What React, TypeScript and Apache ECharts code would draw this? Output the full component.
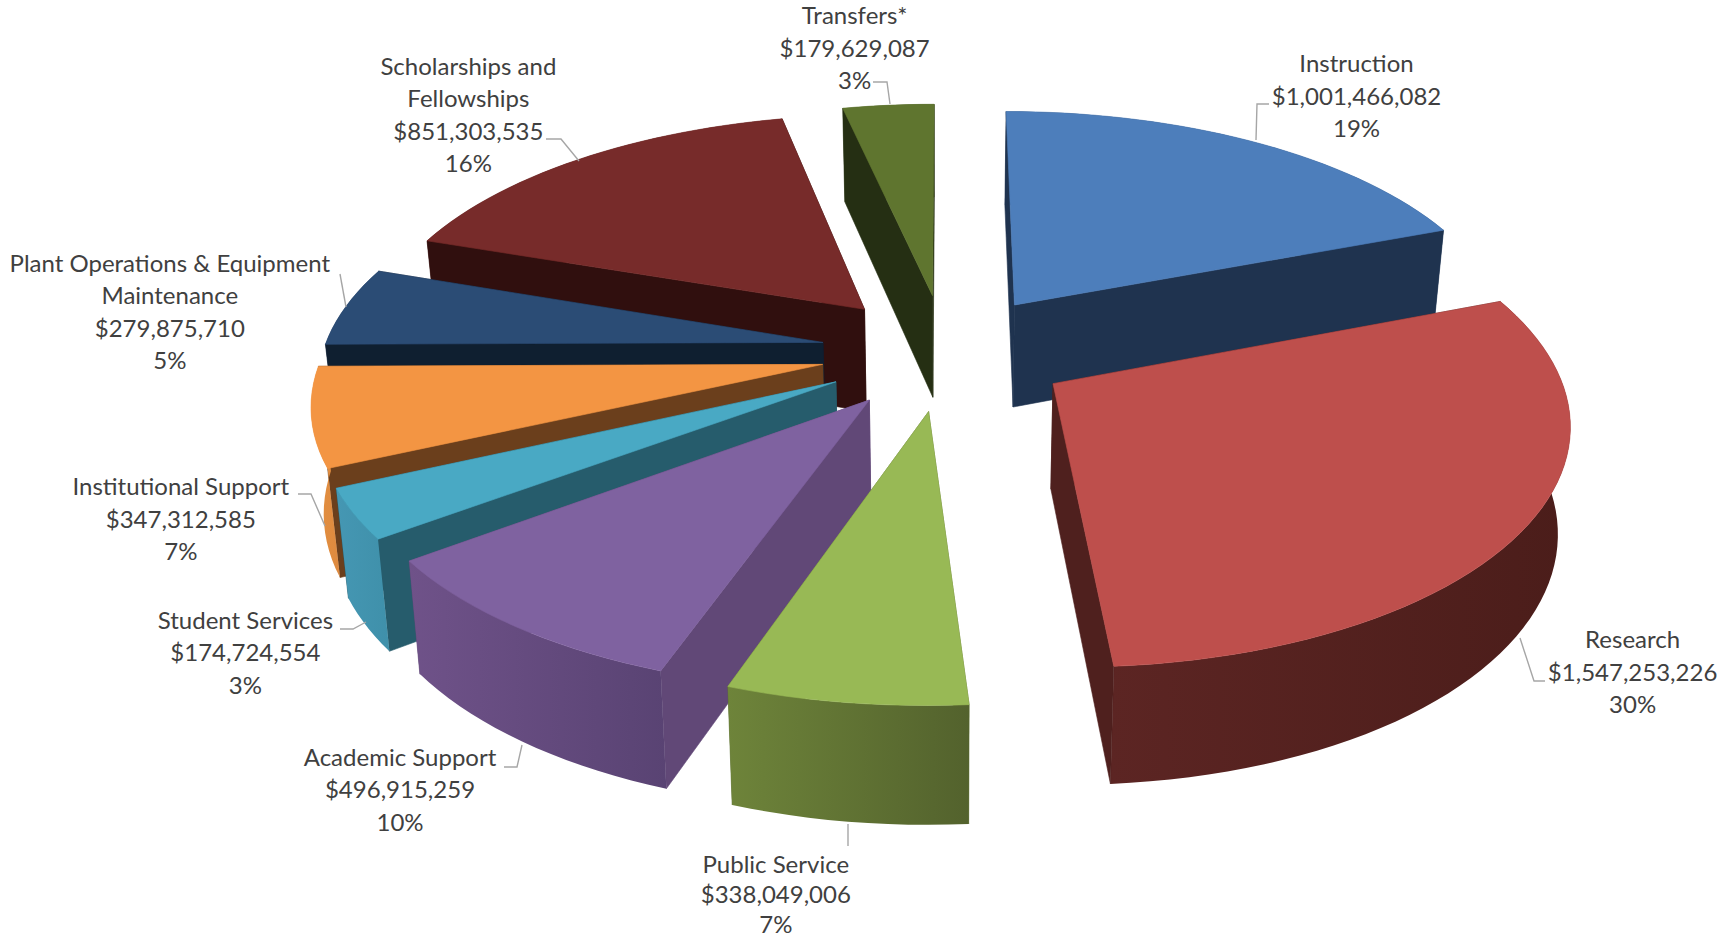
import React, { useEffect, useRef } from "react";
import * as echarts from "echarts";

// ---- data (clockwise from 12 o'clock) ----
const categories = [
  "Instruction",
  "Research",
  "Public Service",
  "Academic Support",
  "Student Services",
  "Institutional Support",
  "Plant Operations & Equipment\nMaintenance",
  "Scholarships and\nFellowships",
  "Transfers*",
];
const amounts = [
  1001466082, 1547253226, 338049006, 496915259, 174724554, 347312585, 279875710, 851303535, 179629087,
];
const percentLabels = ["19%", "30%", "7%", "10%", "3%", "7%", "5%", "16%", "3%"];

// ---- styles ----
const topColors = ["#4D7EBB", "#BE4F4C", "#98B955", "#7F62A0", "#49A9C4", "#F39543", "#2B4C75", "#772B2A", "#5F752F"];
const radialColors = ["#1F334F", "#4F201E", "#5A6E2E", "#614877", "#265C6C", "#6B3F1C", "#0F1F30", "#300F0E", "#252F13"];
const arcStart = ["#1F334F", "#4B1D1A", "#53622D", "#594373", "#3F90AA", "#DD8A40", "#1F3A5A", "#4A1A18", "#3F4F20"];
const arcEnd = ["#2A4468", "#5C2523", "#6E843A", "#6F5289", "#4597B3", "#E5903F", "#1F3A5A", "#4A1A18", "#3F4F20"];

// ---- layout ----
const CX = 945.6;
const CY = 351.7;
const RX = 499.7;
const RY = 233.3;
const PERSPECTIVE = 0.142;
const DEPTH_BASE = 33;
const DEPTH_SCALE = 71;
const BOTTOM_SHRINK = 0.98;
const EXPLODE = 0.25;
const FONT_SIZE = 24;
const labelAnchors = [
  [1356.5, 95],
  [1632.6, 671],
  [775.8, 893],
  [400, 788.5],
  [245.4, 651.5],
  [180.8, 518],
  [169.8, 311],
  [468.4, 114],
  [854.6, 47],
];
const labelLineHeights = [32.5, 32.5, 30, 32.5, 32.5, 32.5, 32.5, 32.5, 32.5];
const leaderLines = [
  [[1256, 140], [1257, 104], [1269, 104]],
  [[1520, 638], [1534, 681], [1545, 681]],
  [[848, 824], [848, 846]],
  [[504, 767], [517, 767], [522, 745]],
  [[340, 629], [353, 629], [366, 622]],
  [[298, 494], [311, 494], [325, 526]],
  [[340, 274], [346, 307]],
  [[546, 139], [561, 139], [579, 161]],
  [[873, 82], [887, 82], [890, 104]],
];

const total = amounts.reduce((a, b) => a + b, 0);
const startAngles: number[] = [];
const endAngles: number[] = [];
amounts.reduce((acc, v, i) => {
  startAngles[i] = (acc / total) * Math.PI * 2;
  endAngles[i] = ((acc + v) / total) * Math.PI * 2;
  return acc + v;
}, 0);
const midAngle = (i: number) => (startAngles[i] + endAngles[i]) / 2;
const drawOrder = amounts.map((_, i) => i).sort((a, b) => Math.cos(midAngle(b)) - Math.cos(midAngle(a)));

function project(u: number, v: number, h: number): number[] {
  const s = 1 / (1 - PERSPECTIVE * v);
  const shrink = h ? BOTTOM_SHRINK : 1;
  return [CX + RX * u * s * shrink, CY + RY * v * s + h * (DEPTH_BASE + DEPTH_SCALE * s)];
}

function polygon(points: number[][], color: any, stroke = true) {
  return {
    type: "polygon",
    shape: { points },
    style: stroke ? { fill: color, stroke: color, lineWidth: 0.6 } : { fill: color },
  };
}

function renderSlice(_params: any, api: any) {
  const i = api.value(1) as number;
  const a0 = startAngles[i];
  const a1 = endAngles[i];
  const m = midAngle(i);
  const ax = EXPLODE * Math.sin(m);
  const ay = -EXPLODE * Math.cos(m);
  const steps = Math.max(6, Math.ceil(((a1 - a0) * 180) / Math.PI / 2));
  const rim: number[][] = [];
  for (let k = 0; k <= steps; k++) {
    const t = a0 + ((a1 - a0) * k) / steps;
    rim.push([ax + Math.sin(t), ay - Math.cos(t)]);
  }
  const walls: { depth: number; el: any }[] = [];
  const radial = (q: number[]) => {
    walls.push({
      depth: (ay + q[1]) / 2,
      el: polygon(
        [project(ax, ay, 0), project(q[0], q[1], 0), project(q[0], q[1], 1), project(ax, ay, 1)],
        radialColors[i],
      ),
    });
  };
  radial(rim[0]);
  radial(rim[steps]);
  const startOnRight = rim[0][0] > rim[steps][0];
  const arcFill = {
    type: "linear",
    x: startOnRight ? 1 : 0,
    y: 0,
    x2: startOnRight ? 0 : 1,
    y2: 0,
    colorStops: [
      { offset: 0, color: arcStart[i] },
      { offset: 1, color: arcEnd[i] },
    ],
  };
  const arcPoints = [
    ...rim.map((p) => project(p[0], p[1], 0)),
    ...rim
      .slice()
      .reverse()
      .map((p) => project(p[0], p[1], 1)),
  ];
  walls.push({
    depth: rim.reduce((acc, p) => acc + p[1], 0) / rim.length,
    el: polygon(arcPoints, arcFill, false),
  });
  walls.sort((a, b) => a.depth - b.depth);
  const top = [[ax, ay], ...rim].map((p) => project(p[0], p[1], 0));
  return {
    type: "group",
    children: [...walls.map((w) => w.el), polygon(top, topColors[i])],
  };
}

export default function App() {
  const ref = useRef<HTMLDivElement>(null);
  useEffect(() => {
    if (!ref.current) return;
    const chart = echarts.init(ref.current, undefined, { renderer: "svg" });
    const fmt = (n: number) => "$" + n.toLocaleString("en-US");
    chart.setOption({
      animation: false,
      backgroundColor: "#ffffff",
      series: [
        {
          type: "custom",
          coordinateSystem: "none",
          renderItem: renderSlice,
          data: drawOrder.map((i) => ({ name: categories[i], value: [amounts[i], i] })),
          silent: true,
        },
      ],
      graphic: {
        elements: [
          ...leaderLines.map((pts) => ({
            type: "polyline",
            z: 10,
            shape: { points: pts },
            style: { stroke: "#A6A6A6", lineWidth: 1.4, fill: "none" },
          })),
          ...categories.map((c, i) => ({
            type: "text",
            z: 11,
            x: labelAnchors[i][0],
            y: labelAnchors[i][1],
            style: {
              text: c + "\n" + fmt(amounts[i]) + "\n" + percentLabels[i],
              fontFamily: "Lato, 'Noto Sans', sans-serif",
              fontSize: FONT_SIZE,
              lineHeight: labelLineHeights[i],
              fill: "#404040",
              align: "center",
              verticalAlign: "middle",
            },
          })),
        ],
      },
    });
    return () => chart.dispose();
  }, []);
  return <div ref={ref} style={{ position: "absolute", left: 0, top: 0, width: 1718, height: 939 }} />;
}
